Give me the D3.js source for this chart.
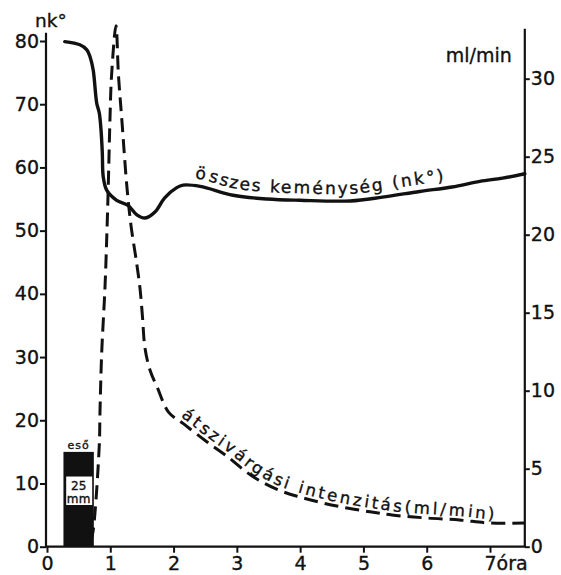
<!DOCTYPE html>
<html><head><meta charset="utf-8">
<script src="https://cdn.jsdelivr.net/npm/d3@7"></script>
<style>
body{margin:0;background:#fff}
text{font-family:"DejaVu Sans",sans-serif;fill:#111;stroke:#111;stroke-width:0.35px}
</style>
</head><body>
<svg id="c" width="561" height="575"></svg>
<script>
// ---- data ----
const hourTicks = [0,1,2,3,4,5,6,7];
const hourTickLabels = ["0","1","2","3","4","5","6","7óra"];
const hardnessTicks = [0,10,20,30,40,50,60,70,80];
const seepTicks = [0,5,10,15,20,25,30];

const hardnessHours  = [0.28,0.52,0.63,0.68,0.73,0.785,0.826,0.853,0.874,0.889,0.943,1.10,1.28,1.42,1.55,1.71,1.86,2.05,2.15,2.42,2.94,3.48,4.0,4.79,5.3,5.89,6.4,6.84,7.2,7.55];
const hardnessValues = [79.9,79.4,78.6,77.5,75.4,70.2,68.6,66.0,62.3,58.5,56.4,54.8,54.0,52.5,52.0,53.0,55.2,56.8,57.2,57.0,55.6,55.0,54.8,54.7,55.3,56.2,56.9,57.8,58.3,59.0];

const seepHours  = [0.695,0.731,0.826,0.837,0.864,0.916,0.948,0.968,0.995,1.02,1.09,1.128,1.182,1.262,1.327,1.414,1.469,1.509,1.548,1.627,1.746,1.92,2.16,2.53,2.84,3.24,3.66,4.00,4.36,4.74,5.13,5.45,6.00,6.52,6.99,7.55];
const seepValues = [0.37,1.07,6.5,8.6,12.4,16.6,20.3,23.1,27.4,30.2,33.4,30.3,27.4,23.1,20.6,18.25,16.58,14.72,12.74,11.33,10.18,8.63,7.87,6.71,5.81,4.53,3.63,3.18,2.80,2.48,2.22,2.03,1.84,1.71,1.52,1.52];

const rainStart = [0.26];
const rainEnd = [0.74];
const rainHeight = [15];
const rainTitle = "eső";
const rainAmount = ["25","mm"];

const hardnessUnit = "nk°";
const seepUnit = "ml/min";
const hardnessLabel = "összes keménység (nk°)";
const seepLabel = "átszivárgási intenzitás(ml/min)";

// ---- scales ----
const svg = d3.select("#c");
const x = d3.scaleLinear().domain([0,7]).range([47,490]);
const yL = d3.scaleLinear().domain([0,80]).range([546.7,41]);
const yR = d3.scaleLinear().domain([0,30]).range([546.7,78.7]);
const xMax = 7.55;

const ink = "#111";

// rain bar
rainStart.forEach((s,i)=>{
  const e = rainEnd[i], h = rainHeight[i];
  svg.append("rect").attr("x",x(s)).attr("y",yL(h)).attr("width",x(e)-x(s)).attr("height",yL(0)-yL(h)).attr("fill",ink);
  const pad = (x(e)-x(s))*0.09;
  svg.append("rect").attr("x",x(s)+pad).attr("y",yL(11.1)).attr("width",x(e)-x(s)-pad*1.6).attr("height",yL(6.6)-yL(11.1)).attr("fill","#fff");
  const cx = (x(s)+x(e))/2;
  svg.append("text").attr("x",cx).attr("y",yL(h)-3).attr("text-anchor","middle").attr("font-size",11).attr("letter-spacing",1).text(rainTitle);
  svg.append("text").attr("x",cx).attr("y",yL(9.0)).attr("text-anchor","middle").attr("font-size",12).text(rainAmount[0]);
  svg.append("text").attr("x",cx).attr("y",yL(6.95)).attr("text-anchor","middle").attr("font-size",12).attr("letter-spacing",0.3).text(rainAmount[1]);
});

// axes lines
svg.append("line").attr("x1",x(0)-1).attr("x2",x(0)-1).attr("y1",yL(0)).attr("y2",yL(81.3)).attr("stroke",ink).attr("stroke-width",2.2);
svg.append("line").attr("x1",x(xMax)).attr("x2",x(xMax)).attr("y1",yR(0)).attr("y2",yR(33.2)).attr("stroke",ink).attr("stroke-width",2.2);
svg.append("line").attr("x1",x(0)-2).attr("x2",x(xMax)+1).attr("y1",yL(0)).attr("y2",yL(0)).attr("stroke",ink).attr("stroke-width",2.2);

function styleAxis(g){
  g.select(".domain").remove();
  g.selectAll(".tick line").attr("stroke",ink).attr("stroke-width",2);
  g.selectAll(".tick text").attr("font-size",19).attr("fill",ink).attr("font-family","DejaVu Sans");
}
svg.append("g").attr("transform",`translate(${x(0)-1},0)`)
  .call(d3.axisLeft(yL).tickValues(hardnessTicks).tickSize(6).tickPadding(1))
  .call(styleAxis);
svg.append("g").attr("transform",`translate(${x(xMax)},0)`)
  .call(d3.axisRight(yR).tickValues(seepTicks).tickSize(5).tickPadding(1))
  .call(styleAxis);
const xa = svg.append("g").attr("transform",`translate(0,${yL(0)})`)
  .call(d3.axisBottom(x).tickValues(hourTicks).tickSize(6).tickPadding(4).tickFormat((d,i)=>hourTickLabels[i]))
  .call(styleAxis);
xa.selectAll(".tick text").filter((d,i)=>i===hourTickLabels.length-1)
  .attr("text-anchor","start").attr("x",-6);

// unit labels
svg.append("text").attr("x",x(0)-12).attr("y",yL(81.3)-6).attr("font-size",18.5).text(hardnessUnit);
svg.append("text").attr("x",x(xMax)-13).attr("y",yR(31.1)).attr("text-anchor","end").attr("font-size",19).text(seepUnit);

// lines
const hardData = hardnessHours.map((h,i)=>[x(h),yL(hardnessValues[i])]);
const seepData = seepHours.map((h,i)=>[x(h),yR(seepValues[i])]);
const line = d3.line().curve(d3.curveCatmullRom.alpha(0.5));

const hp = svg.append("path").attr("id","hardPath").attr("d",line(hardData)).attr("fill","none")
  .attr("stroke",ink).attr("stroke-width",3.4).attr("stroke-linejoin","round").attr("stroke-linecap","round");
const sp = svg.append("path").attr("id","seepPath").attr("d",line(seepData)).attr("fill","none")
  .attr("stroke",ink).attr("stroke-width",3).attr("stroke-dasharray","14,7");

function offsetAfter(node, fromLen, px){
  let lo=fromLen, hi=node.getTotalLength();
  for(let k=0;k<40;k++){const mid=(lo+hi)/2; if(node.getPointAtLength(mid).x<px) lo=mid; else hi=mid;}
  return lo;
}
// hardness label along curve
svg.append("text").attr("font-size",17).attr("letter-spacing",2.2).attr("dy",-7)
  .append("textPath").attr("href","#hardPath").attr("startOffset",offsetAfter(hp.node(),0,x(2.31)))
  .text(hardnessLabel);

// seep label along the falling branch
(function(){
  const node = sp.node(); const L = node.getTotalLength();
  let peakLen=0, minY=1e9;
  for(let l=0;l<L;l+=1){const p=node.getPointAtLength(l); if(p.y<minY){minY=p.y;peakLen=l;}}
  svg.append("text").attr("font-size",16.5).attr("letter-spacing",2.9).attr("dy",-4)
    .append("textPath").attr("href","#seepPath").attr("startOffset",offsetAfter(node,peakLen,x(2.07)))
    .text(seepLabel);
})();
</script>
</body></html>
